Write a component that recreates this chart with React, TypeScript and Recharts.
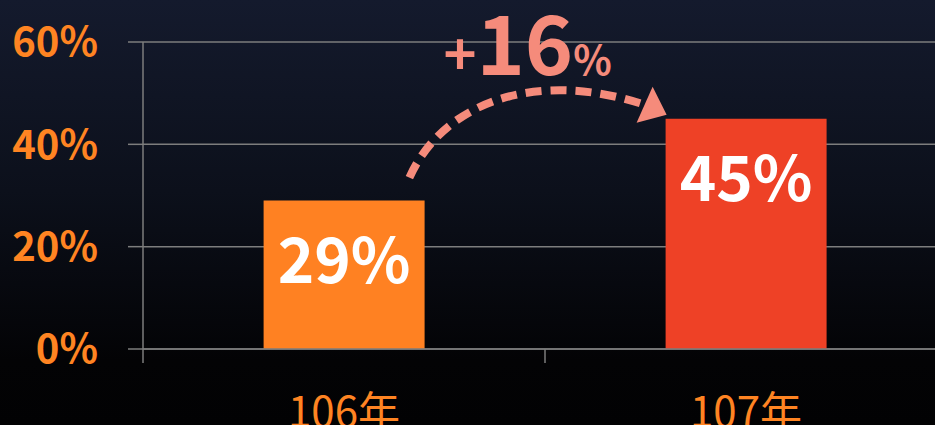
import React from 'react';
import { BarChart, Bar, XAxis, YAxis, CartesianGrid, LabelList, ReferenceArea, Cell } from 'recharts';

const categories = ['106年', '107年'];
const values = [29, 45];
const barColors = ['#FF8122', '#EE4126'];
const yTicks = [0, 20, 40, 60];
const changeLabel = '16';

const data = categories.map((c, i) => ({ year: c, value: values[i] }));

const FONT = '"Noto Sans CJK TC", "Noto Sans", sans-serif';
const ORANGE = '#FF8422';
const SALMON = '#F58B7B';
const GRID = '#7d7d7d';

const XTick = (props: any) => {
  const { x, y, payload } = props;
  const margin = 48;
  const axisY = y - margin;
  const bx = payload.coordinate - (payload.offset || 0);
  return (
    <g>
      <line x1={bx} x2={bx} y1={axisY} y2={axisY + 14} stroke={GRID} strokeWidth={1.5} />
      <text x={x} y={y} dy="0.71em" textAnchor="middle" fill={ORANGE} fontSize={42} fontFamily={FONT}>
        {payload.value}
      </text>
    </g>
  );
};

const YTick = (props: any) => {
  const { x, y, payload } = props;
  return (
    <text x={x} y={y} dy="0.36em" textAnchor="end" fill={ORANGE} fontSize={40} fontWeight="bold" fontFamily={FONT}>
      {payload.value}%
    </text>
  );
};

const ArrowShape = (props: any) => {
  const { x, y, width, height } = props;
  const band = width / 2;
  const b1right = x + band * 0.7;
  const b1top = y + height;
  const b2left = x + band * 1.3;
  const b2top = y;
  const S = [b1right - 15, b1top - 23];
  const P1 = [b1right + 20, b2top - 19];
  const P2 = [b1right + 115, b2top - 49];
  const E = [b2left - 21, b2top - 14];
  const d = `M${S[0]},${S[1]} C${P1[0]},${P1[1]} ${P2[0]},${P2[1]} ${E[0]},${E[1]}`;
  const head = `${b2left + 1},${b2top - 4} ${b2left - 13},${b2top - 32} ${b2left - 29},${b2top + 4}`;
  return (
    <g>
      <path d={d} fill="none" stroke={SALMON} strokeWidth={8} strokeDasharray="16 9" />
      <polygon points={head} fill={SALMON} />
      <text x={b1right + 19} y={b2top - 44} fill={SALMON} fontFamily={FONT} fontWeight="bold">
        <tspan fontSize={56}>+</tspan>
        <tspan fontSize={82}>{changeLabel}</tspan>
        <tspan fontSize={40}>%</tspan>
      </text>
    </g>
  );
};

export default function App() {
  return (
    <div
      style={{
        position: 'fixed',
        left: 0,
        top: 0,
        width: 935,
        height: 425,
        overflow: 'hidden',
        background: 'linear-gradient(to bottom, #141a2d 0%, #0c101b 45%, #030305 85%, #020203 100%)',
      }}
    >
      <BarChart
        width={947}
        height={425}
        data={data}
        margin={{ top: 42, right: 0, bottom: 0, left: 0 }}
        barCategoryGap="30%"
      >
        <CartesianGrid vertical={false} stroke={GRID} strokeWidth={1.5} />
        <XAxis
          dataKey="year"
          height={76}
          axisLine={{ stroke: GRID, strokeWidth: 1.5 }}
          tickLine={false}
          tickSize={0}
          tickMargin={48}
          tick={<XTick />}
          interval={0}
        />
        <YAxis
          width={143}
          domain={[0, 60]}
          ticks={yTicks}
          axisLine={{ stroke: GRID, strokeWidth: 1.5 }}
          tickLine={{ stroke: GRID, strokeWidth: 1.5 }}
          tickSize={15}
          tickMargin={30}
          tick={<YTick />}
          interval={0}
        />
        <Bar dataKey="value" isAnimationActive={false}>
          {data.map((d, i) => (
            <Cell key={d.year} fill={barColors[i]} />
          ))}
          <LabelList
            dataKey="value"
            position="insideTop"
            offset={38}
            formatter={(v: any) => `${v}%`}
            fill="#ffffff"
            fontSize={62}
            fontWeight="bold"
            fontFamily={FONT}
          />
        </Bar>
        <ReferenceArea
          x1={categories[0]}
          x2={categories[1]}
          y1={values[1]}
          y2={values[0]}
          ifOverflow="visible"
          shape={(p: any) => <ArrowShape {...p} />}
        />
      </BarChart>
    </div>
  );
}
